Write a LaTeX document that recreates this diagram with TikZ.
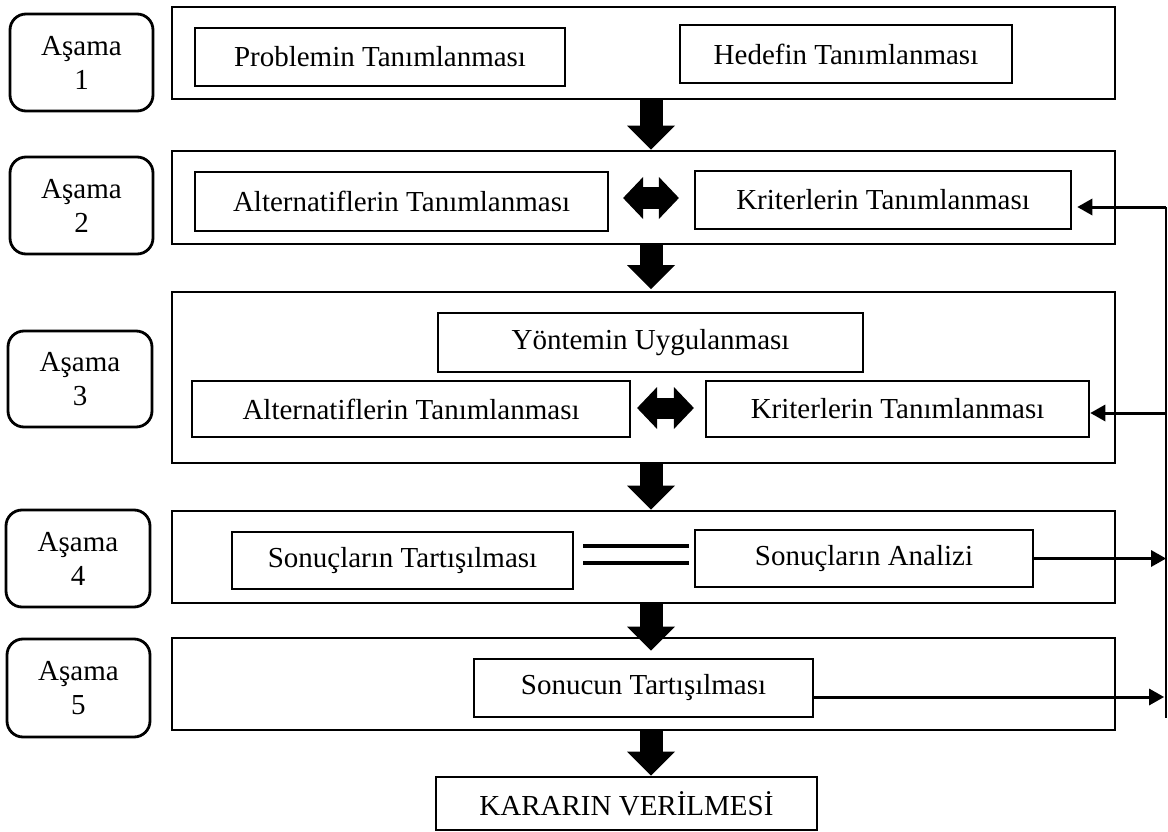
\documentclass[tikz,border=0pt]{standalone}
\usepackage{fontspec}
\setmainfont{Liberation Serif}
\usetikzlibrary{arrows.meta,calc}
\begin{document}
\begin{tikzpicture}[x=1pt,y=-1pt,
  txt/.style={font=\fontsize{29}{34}\selectfont},
  stage/.style={draw, line width=2.8pt, rectangle, inner sep=0pt},
  inbox/.style={draw, line width=2.8pt, rectangle, inner sep=0pt, txt},
  asama/.style={draw, line width=2.8pt, rounded corners=16pt, align=center, inner sep=0pt, txt},
  blockarrow/.style={line width=23pt, -{Triangle[length=24pt,width=48pt,line width=0pt]}},
  dblarrow/.style={line width=21pt, {Triangle[length=20pt,width=42pt,line width=0pt]}-{Triangle[length=20pt,width=42pt,line width=0pt]}},
  dline/.style={line width=4.5pt},
  fb/.style={line width=3pt, -{Triangle[length=15pt,width=17pt,line width=0pt]}}
]
\useasboundingbox (0,0) rectangle (1168,832);

% stage labels
\node[asama, minimum width=143pt, minimum height=97pt] (a1) at (81.5,62.5) {Aşama\\1};
\node[asama, minimum width=143pt, minimum height=97pt] (a2) at (81.5,205.5) {Aşama\\2};
\node[asama, minimum width=144pt, minimum height=96pt] (a3) at (80,379) {Aşama\\3};
\node[asama, minimum width=144pt, minimum height=97pt] (a4) at (78,558.5) {Aşama\\4};
\node[asama, minimum width=143pt, minimum height=98pt] (a5) at (78.5,688) {Aşama\\5};

% stage frames
\node[stage, minimum width=943pt, minimum height=92pt] (S1) at (643.5,53) {};
\node[stage, minimum width=943pt, minimum height=93pt] (S2) at (643.5,197.5) {};
\node[stage, minimum width=943pt, minimum height=171pt] (S3) at (643.5,377.5) {};
\node[stage, minimum width=943pt, minimum height=92pt] (S4) at (643.5,557) {};
\node[stage, minimum width=943pt, minimum height=92pt] (S5) at (643.5,684) {};

% inner boxes
\node[inbox, minimum width=370pt, minimum height=58pt] (P) at (380,57) {Problemin Tanımlanması};
\node[inbox, minimum width=332pt, minimum height=58pt] (H) at (846,54) {Hedefin Tanımlanması};
\node[inbox, minimum width=413pt, minimum height=59pt] (Alt2) at (401.5,201.5) {Alternatiflerin Tanımlanması};
\node[inbox, minimum width=376pt, minimum height=58pt] (Kr2) at (883,200) {Kriterlerin Tanımlanması};
\node[inbox, minimum width=425pt, minimum height=59pt] (Y) at (650.5,342.5) {Yöntemin Uygulanması};
\node[inbox, minimum width=438pt, minimum height=56pt] (Alt3) at (411,409) {Alternatiflerin Tanımlanması};
\node[inbox, minimum width=383pt, minimum height=56pt] (Kr3) at (897.5,409) {Kriterlerin Tanımlanması};
\node[inbox, minimum width=341pt, minimum height=57pt] (ST) at (402.5,560.5) {Sonuçların Tartışılması};
\node[inbox, minimum width=338pt, minimum height=57pt] (SA) at (864,558.5) {Sonuçların Analizi};
\node[inbox, minimum width=339pt, minimum height=58pt] (SC) at (643.5,688) {Sonucun Tartışılması};
\node[inbox, minimum width=381pt, minimum height=53pt] (K) at (626.5,803.5) {KARARIN VERİLMESİ};

% block arrows between stages
\coordinate (ax) at (651,0);
\draw[blockarrow] (ax |- S1.south) -- (ax |- S2.north);
\draw[blockarrow, shorten >=1.5pt] (ax |- S2.south) -- (ax |- S3.north);
\draw[blockarrow] (ax |- S3.south) -- (ax |- S4.north);
\draw[blockarrow, shorten >=7pt] (ax |- S4.south) -- (ax |- SC.north);
\draw[blockarrow] (ax |- S5.south) -- (ax |- K.north);

% double arrows
\coordinate (d2y) at (0,198);
\draw[dblarrow, shorten <=13.7pt, shorten >=14.7pt] (Alt2.east |- d2y) -- (Kr2.west |- d2y);
\coordinate (d3y) at (0,408);
\draw[dblarrow, shorten <=5.7pt, shorten >=10.7pt] (Alt3.east |- d3y) -- (Kr3.west |- d3y);

% double line
\coordinate (dl1) at (0,546);
\coordinate (dl2) at (0,563);
\draw[dline, shorten <=8.7pt, shorten >=4.7pt] (ST.east |- dl1) -- (SA.west |- dl1);
\draw[dline, shorten <=8.7pt, shorten >=4.7pt] (ST.east |- dl2) -- (SA.west |- dl2);

% feedback loop
\coordinate (vtop) at (1166,207);
\coordinate (vmid) at (1166,413);
\coordinate (vbot) at (1166,718);
\draw[line width=2.6pt] (vtop) -- (vbot);
\draw[fb, shorten >=5pt] (vtop) -- (Kr2.east |- vtop);
\draw[fb] (vmid) -- (Kr3.east |- vmid);
\draw[fb] (SA.east) -- (SA.east -| vtop);
\coordinate (scr) at ([yshift=-9pt]SC.east);
\draw[fb, shorten >=2pt] (scr) -- (scr -| vtop);
\end{tikzpicture}
\end{document}
